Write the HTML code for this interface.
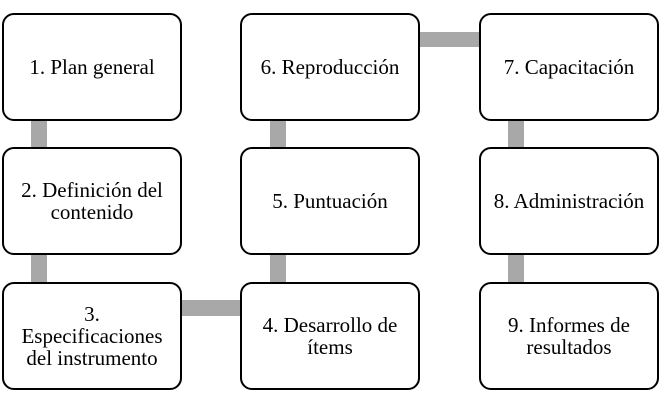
<!DOCTYPE html>
<html><head><style>
body{margin:0;width:662px;height:406px;background:#fff;position:relative;overflow:hidden;font-family:"Liberation Serif",serif;}
.b{position:absolute;box-sizing:border-box;width:180px;height:108px;border:2px solid #000;border-radius:12px;background:#fff;display:flex;align-items:center;justify-content:center;text-align:center;font-size:21px;line-height:22px;color:#000;z-index:2}
.c{position:absolute;background:#a8a8a8;z-index:1}
</style></head><body>
<div class="c" style="left:31px;top:118px;width:16px;height:32px"></div>
<div class="c" style="left:31px;top:253px;width:16px;height:32px"></div>
<div class="c" style="left:180px;top:300px;width:62px;height:16px"></div>
<div class="c" style="left:270px;top:253px;width:16px;height:32px"></div>
<div class="c" style="left:270px;top:118px;width:16px;height:32px"></div>
<div class="c" style="left:418px;top:32px;width:63px;height:15px"></div>
<div class="c" style="left:508px;top:118px;width:16px;height:32px"></div>
<div class="c" style="left:508px;top:253px;width:16px;height:32px"></div>
<div class="b" style="left:2px;top:13px">1. Plan general</div>
<div class="b" style="left:2px;top:147px">2. Definición del<br>contenido</div>
<div class="b" style="left:2px;top:282px">3.<br>Especificaciones<br>del instrumento</div>
<div class="b" style="left:240px;top:13px">6. Reproducción</div>
<div class="b" style="left:240px;top:147px">5. Puntuación</div>
<div class="b" style="left:240px;top:282px">4. Desarrollo de<br>ítems</div>
<div class="b" style="left:479px;top:13px">7. Capacitación</div>
<div class="b" style="left:479px;top:147px">8. Administración</div>
<div class="b" style="left:479px;top:282px">9. Informes de<br>resultados</div>
</body></html>
